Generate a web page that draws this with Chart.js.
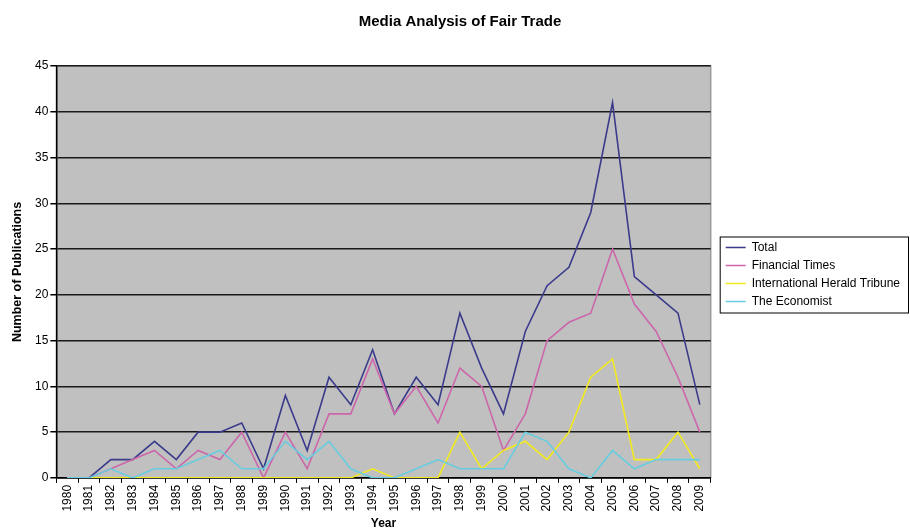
<!DOCTYPE html>
<html>
<head>
<meta charset="utf-8">
<script src="https://cdn.jsdelivr.net/npm/chart.js@4/dist/chart.umd.min.js"></script>
<style>
  html, body { margin: 0; padding: 0; background: #fff; }
  #wrap { width: 910px; height: 531px; }
</style>
</head>
<body>
<div id="wrap"><canvas id="mediaChart" width="910" height="531"></canvas></div>
<script>
const years = ['1980','1981','1982','1983','1984','1985','1986','1987','1988','1989',
               '1990','1991','1992','1993','1994','1995','1996','1997','1998','1999',
               '2000','2001','2002','2003','2004','2005','2006','2007','2008','2009'];

const total     = [0, 0, 2, 2, 4, 2, 5, 5, 6, 1, 9, 3, 11, 8, 14, 7, 11, 8, 18, 12, 7, 16, 21, 23, 29, 41, 22, 20, 18, 8];
const finTimes  = [0, 0, 1, 2, 3, 1, 3, 2, 5, 0, 5, 1, 7, 7, 13, 7, 10, 6, 12, 10, 3, 7, 15, 17, 18, 25, 19, 16, 11, 5];
const herald    = [0, 0, 0, 0, 0, 0, 0, 0, 0, 0, 0, 0, 0, 0, 1, 0, 0, 0, 5, 1, 3, 4, 2, 5, 11, 13, 2, 2, 5, 1];
const economist = [0, 0, 1, 0, 1, 1, 2, 3, 1, 1, 4, 2, 4, 1, 0, 0, 1, 2, 1, 1, 1, 5, 4, 1, 0, 3, 1, 2, 2, 2];

const yTicks = [0, 5, 10, 15, 20, 25, 30, 35, 40, 45];

const FONT = '"Liberation Sans", Arial, sans-serif';

// grey plot area + legend frame
const plotFrame = {
    id: 'plotFrame',
    beforeDraw(chart) {
        const { ctx, chartArea: a } = chart;
        ctx.save();
        ctx.fillStyle = '#c0c0c0';
        ctx.fillRect(a.left, a.top, a.right - a.left, a.bottom - a.top);
        ctx.strokeStyle = '#9a9a9a';
        ctx.lineWidth = 1.5;
        ctx.strokeRect(a.left, a.top, a.right - a.left, a.bottom - a.top);
        ctx.restore();
    },
    afterDraw(chart) {
        const lg = chart.legend;
        if (!lg || !lg.legendHitBoxes.length) return;
        const boxes = lg.legendHitBoxes;
        const top = boxes[0].top - 5;
        const last = boxes[boxes.length - 1];
        const bottom = last.top + last.height + 5;
        const ctx = chart.ctx;
        ctx.save();
        ctx.strokeStyle = '#000';
        ctx.lineWidth = 1;
        ctx.strokeRect(lg.left + 0.5, top + 0.5, lg.width - 2, bottom - top);
        ctx.restore();
    }
};

function series(label, data, color, order) {
    return {
        label, data, order,
        borderColor: color,
        backgroundColor: color,
        borderWidth: 1.6,
        pointRadius: 0,
        pointStyle: 'line',
        tension: 0,
        fill: false
    };
}

new Chart(document.getElementById('mediaChart'), {
    type: 'line',
    data: {
        labels: years,
        datasets: [
            series('Total', total, '#3b3b8c', 4),
            series('Financial Times', finTimes, '#cc66aa', 3),
            series('International Herald Tribune', herald, '#f2ea1e', 2),
            series('The Economist', economist, '#66cce0', 1)
        ]
    },
    options: {
        responsive: false,
        animation: false,
        layout: { padding: { left: 10, right: 0, top: 0, bottom: 0 } },
        plugins: {
            title: {
                display: true,
                text: 'Media Analysis of Fair Trade',
                color: '#000',
                font: { family: FONT, size: 15, weight: 'bold' },
                padding: { top: 13, bottom: 35 }
            },
            legend: {
                position: 'right',
                maxWidth: 230,
                // blank title only nudges the entries down a little
                title: {
                    display: true,
                    text: ' ',
                    font: { family: FONT, size: 10 },
                    padding: { top: 3, bottom: 3 }
                },
                labels: {
                    color: '#000',
                    font: { family: FONT, size: 12 },
                    usePointStyle: true,
                    pointStyle: 'line',
                    pointStyleWidth: 20,
                    boxHeight: 12,
                    padding: 6,
                    sort: (a, b) => a.datasetIndex - b.datasetIndex
                }
            },
            tooltip: { enabled: false }
        },
        scales: {
            x: {
                offset: true,
                grid: {
                    offset: true,
                    drawOnChartArea: false,
                    drawTicks: true,
                    tickLength: 5,
                    tickColor: '#000'
                },
                border: { color: '#000', width: 1.5 },
                ticks: {
                    color: '#000',
                    font: { family: FONT, size: 12 },
                    minRotation: 90,
                    maxRotation: 90,
                    autoSkip: false,
                    padding: 2
                },
                title: {
                    display: true,
                    text: 'Year',
                    color: '#000',
                    font: { family: FONT, size: 12, weight: 'bold' },
                    padding: { top: 3, bottom: 0 }
                }
            },
            y: {
                min: 0,
                max: 45,
                afterBuildTicks(axis) { axis.ticks = yTicks.map(v => ({ value: v })); },
                grid: {
                    color: '#1a1a1a',
                    lineWidth: 1.5,
                    tickLength: 6,
                    tickColor: '#000'
                },
                border: { color: '#000', width: 1.5 },
                ticks: {
                    color: '#000',
                    font: { family: FONT, size: 12 },
                    padding: 2
                },
                title: {
                    display: true,
                    text: 'Number of Publications',
                    color: '#000',
                    font: { family: FONT, size: 12.5, weight: 'bold' },
                    padding: { top: 0, bottom: 8 }
                }
            },
            // empty axis that only keeps a gap between the plot and the legend
            gap: {
                position: 'right',
                display: true,
                grid: { display: false },
                border: { display: false },
                ticks: { display: false },
                afterFit(scale) { scale.width = 9; }
            }
        }
    },
    plugins: [plotFrame]
});
</script>
</body>
</html>
